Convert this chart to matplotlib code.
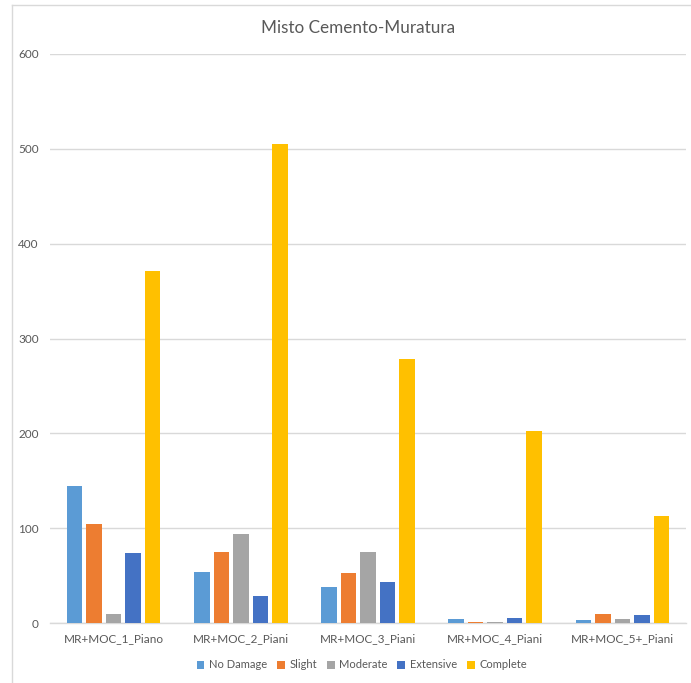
import matplotlib
matplotlib.use("Agg")
import matplotlib.pyplot as plt
from matplotlib.lines import Line2D
import numpy as np

categories = ["MR+MOC_1_Piano", "MR+MOC_2_Piani", "MR+MOC_3_Piani",
              "MR+MOC_4_Piani", "MR+MOC_5+_Piani"]
series_names = ["No Damage", "Slight", "Moderate", "Extensive", "Complete"]
no_damage = [144, 54, 38, 4, 3]
slight = [104, 75, 53, 1, 9]
moderate = [10, 94, 75, 1, 4]
extensive = [74, 28, 43, 5, 8]
complete = [371, 505, 278, 202, 113]
y_ticks = [0, 100, 200, 300, 400, 500, 600]

colors = ["#5B9BD5", "#ED7D31", "#A5A5A5", "#4472C4", "#FFC000"]
text_color = "#595959"
grid_color = "#D9D9D9"

plt.rcParams["font.family"] = ["Lato", "DejaVu Sans"]

fig = plt.figure(figsize=(6.91, 6.83), dpi=100)
ax = fig.add_axes([50 / 691, 60 / 683, 636 / 691, 569 / 683])

data = [no_damage, slight, moderate, extensive, complete]
x = np.arange(len(categories))
slot = 0.1535
width = 0.122
for i, (vals, name, c) in enumerate(zip(data, series_names, colors)):
    offs = (i - 2) * slot
    ax.bar(x + offs, vals, width=width, color=c, label=name, zorder=3)

ax.set_xlim(-0.5, len(categories) - 0.5)
ax.set_ylim(0, 600)
ax.set_yticks(y_ticks)
ax.set_xticks(x)
ax.set_xticklabels(categories)
ax.tick_params(axis="both", length=0, colors=text_color, labelsize=8.5)
ax.tick_params(axis="y", pad=8)
ax.tick_params(axis="x", pad=7)
ax.grid(axis="y", color=grid_color, linewidth=1, zorder=0)
for s in ["top", "right", "left"]:
    ax.spines[s].set_visible(False)
ax.spines["bottom"].set_color(grid_color)
ax.spines["bottom"].set_linewidth(1)

fig.text(358 / 691, 1 - 28 / 683, "Misto Cemento-Muratura", ha="center",
         va="center", fontsize=12.3, color=text_color)

leg = ax.legend(loc="center", ncol=5, frameon=False, fontsize=8,
                handlelength=0.7, handleheight=0.7, handletextpad=0.4,
                columnspacing=0.9, labelcolor=text_color)
leg.set_bbox_to_anchor((0.49, -42 / 569), transform=ax.transAxes)

# chart-area border (top and left edges)
fig.add_artist(Line2D([12 / 691, 1], [1 - 5 / 683, 1 - 5 / 683],
                      transform=fig.transFigure, color=grid_color, lw=1))
fig.add_artist(Line2D([12 / 691, 12 / 691], [0, 1 - 5 / 683],
                      transform=fig.transFigure, color=grid_color, lw=1))

fig.savefig("out.png", dpi=100, facecolor="white")
